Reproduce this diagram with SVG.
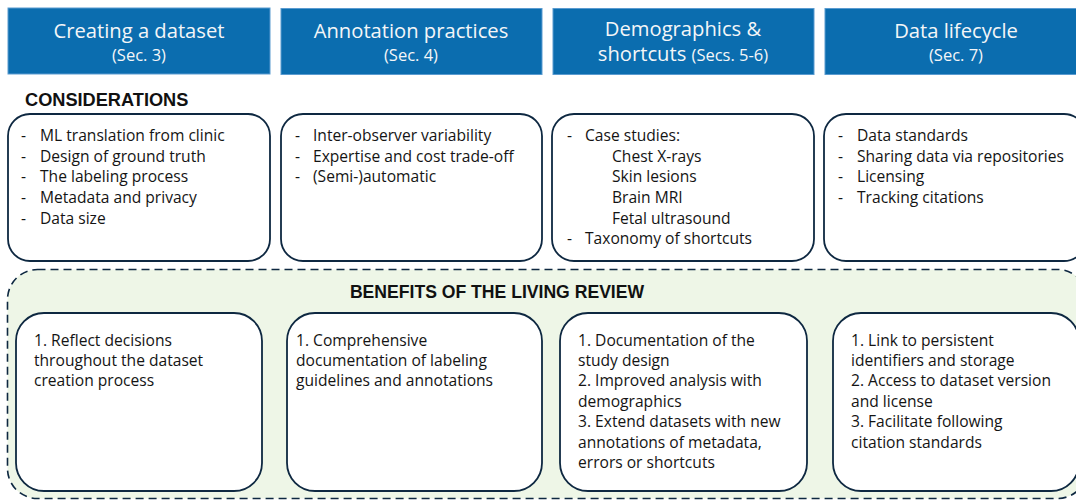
<svg xmlns="http://www.w3.org/2000/svg" width="1076" height="500" viewBox="0 0 1076 500">
<style>
.hdr{fill:#0B6DAF;stroke:#5A9BD0;stroke-width:1}
.ht{font-family:"Open Sans","Liberation Sans",sans-serif;fill:#F4F6F8;text-anchor:middle}
.t1{font-size:20.2px}
.t2{font-size:16.5px}
.box{fill:#FFFFFF;stroke:#0E2841;stroke-width:1.8}
.tx{font-family:"Open Sans","Liberation Sans",sans-serif;font-size:15.6px;fill:#141414}
.bold{font-family:"Liberation Sans",Arial,sans-serif;font-weight:bold;font-size:17.6px;fill:#111111}
</style>
<rect width="1076" height="500" fill="#FFFFFF"/>

<g id="header-dataset">
<rect class="hdr" x="8" y="8" width="262" height="66"/>
<text class="ht t1" x="139" y="38">Creating a dataset</text>
<text class="ht t2" x="139" y="61">(Sec. 3)</text>
</g>
<g id="header-annotation">
<rect class="hdr" x="281" y="8.5" width="261" height="66"/>
<text class="ht t1" x="411" y="38">Annotation practices</text>
<text class="ht t2" x="411" y="61">(Sec. 4)</text>
</g>
<g id="header-demographics">
<rect class="hdr" x="553" y="8.5" width="261" height="66"/>
<text class="ht t1" x="683" y="36">Demographics &amp;</text>
<text class="ht t1" x="683" y="61">shortcuts <tspan class="t2">(Secs. 5-6)</tspan></text>
</g>
<g id="header-lifecycle">
<rect class="hdr" x="825" y="8.5" width="262" height="66"/>
<text class="ht t1" x="956" y="38">Data lifecycle</text>
<text class="ht t2" x="956" y="61">(Sec. 7)</text>
</g>

<text class="bold" x="25" y="106" style="font-size:18.2px">CONSIDERATIONS</text>

<g id="cons-dataset">
<rect class="box" x="8" y="114" width="262" height="147" rx="22"/>
<text class="tx"><tspan x="21" y="141">-</tspan><tspan x="40" y="141">ML translation from clinic</tspan><tspan x="21" y="162">-</tspan><tspan x="40" y="162">Design of ground truth</tspan><tspan x="21" y="182">-</tspan><tspan x="40" y="182">The labeling process</tspan><tspan x="21" y="203">-</tspan><tspan x="40" y="203">Metadata and privacy</tspan><tspan x="21" y="224">-</tspan><tspan x="40" y="224">Data size</tspan></text>
</g>
<g id="cons-annotation">
<rect class="box" x="281" y="114" width="261" height="147" rx="22"/>
<text class="tx"><tspan x="295" y="141">-</tspan><tspan x="313" y="141">Inter-observer variability</tspan><tspan x="295" y="162">-</tspan><tspan x="313" y="162">Expertise and cost trade-off</tspan><tspan x="295" y="182">-</tspan><tspan x="313" y="182">(Semi-)automatic</tspan></text>
</g>
<g id="cons-demographics">
<rect class="box" x="552" y="114" width="262" height="147" rx="22"/>
<text class="tx"><tspan x="567" y="141">-</tspan><tspan x="585" y="141">Case studies:</tspan><tspan x="612" y="162">Chest X-rays</tspan><tspan x="612" y="182">Skin lesions</tspan><tspan x="612" y="203">Brain MRI</tspan><tspan x="612" y="224">Fetal ultrasound</tspan><tspan x="567" y="244">-</tspan><tspan x="585" y="244">Taxonomy of shortcuts</tspan></text>
</g>
<g id="cons-lifecycle">
<rect class="box" x="824" y="114" width="262" height="147" rx="22"/>
<text class="tx"><tspan x="838" y="141">-</tspan><tspan x="857" y="141">Data standards</tspan><tspan x="838" y="162">-</tspan><tspan x="857" y="162">Sharing data via repositories</tspan><tspan x="838" y="182">-</tspan><tspan x="857" y="182">Licensing</tspan><tspan x="838" y="203">-</tspan><tspan x="857" y="203">Tracking citations</tspan></text>
</g>

<g id="benefits">
<rect x="7.5" y="269.5" width="1080" height="229" rx="30" fill="#EEF6E7" stroke="#0E2841" stroke-width="1.6" stroke-dasharray="8 5"/>
<text class="bold" x="497" y="298" text-anchor="middle">BENEFITS OF THE LIVING REVIEW</text>
</g>

<g id="benefit-dataset">
<rect class="box" x="16" y="313" width="246" height="178" rx="28"/>
<text class="tx"><tspan x="34" y="345.5">1. Reflect decisions</tspan><tspan x="34" y="366">throughout the dataset</tspan><tspan x="34" y="386">creation process</tspan></text>
</g>
<g id="benefit-annotation">
<rect class="box" x="287" y="313" width="255" height="178" rx="28"/>
<text class="tx"><tspan x="296" y="345.5">1. Comprehensive</tspan><tspan x="296" y="366">documentation of labeling</tspan><tspan x="296" y="386">guidelines and annotations</tspan></text>
</g>
<g id="benefit-demographics">
<rect class="box" x="560" y="313" width="247" height="178" rx="28"/>
<text class="tx"><tspan x="578" y="345.5">1. Documentation of the</tspan><tspan x="578" y="366">study design</tspan><tspan x="578" y="386">2. Improved analysis with</tspan><tspan x="578" y="406.5">demographics</tspan><tspan x="578" y="427">3. Extend datasets with new</tspan><tspan x="578" y="447.5">annotations of metadata,</tspan><tspan x="578" y="468">errors or shortcuts</tspan></text>
</g>
<g id="benefit-lifecycle">
<rect class="box" x="833" y="313" width="246" height="178" rx="28"/>
<text class="tx"><tspan x="851" y="345.5">1. Link to persistent</tspan><tspan x="851" y="366">identifiers and storage</tspan><tspan x="851" y="386">2. Access to dataset version</tspan><tspan x="851" y="406.5">and license</tspan><tspan x="851" y="427">3. Facilitate following</tspan><tspan x="851" y="447.5">citation standards</tspan></text>
</g>

<g id="connectors"></g>
</svg>
